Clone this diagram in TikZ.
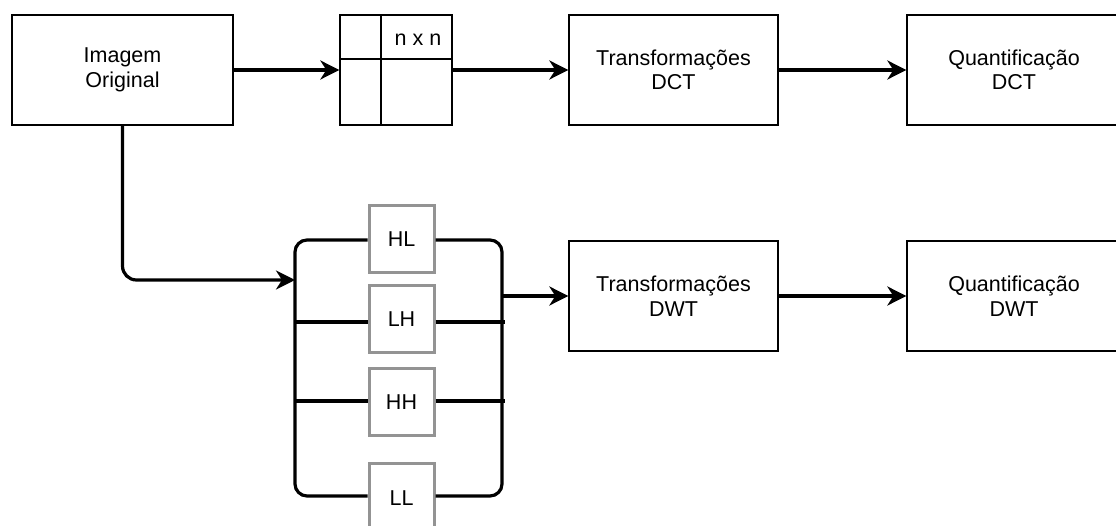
\documentclass[tikz,border=0pt]{standalone}
\usepackage{fontspec}
\setmainfont{Liberation Sans}
\usetikzlibrary{arrows.meta}
\begin{document}
\begin{tikzpicture}[x=1pt,y=-1pt,
  every node/.style={font=\fontsize{21.5}{24.5}\selectfont, align=center, inner sep=0pt},
  stage/.style={draw=black, line width=1.3pt, minimum width=209pt, minimum height=110pt},
  band/.style={draw=gray!85, line width=3pt, minimum width=65pt, minimum height=67pt},
  wire/.style={line width=3.2pt},
  flow/.style={wire, -{Stealth[length=19pt,width=19pt,inset=6pt]}}
]
\useasboundingbox (0,0) rectangle (1116,526);

% top row: DCT branch
\node[stage, minimum width=221pt] (img) at (122.5,70) {Imagem\\Original};
\node[stage, minimum width=112pt] (grid) at (396,70) {};
\draw[line width=1.3pt] (381,15) -- (381,125);
\draw[line width=1.3pt] (340,59) -- (452,59);
\node (nxn) at (418,40) {n x n};
\node[stage] (tdct) at (673.5,70) {Transformações\\DCT};
\node[stage, minimum width=214pt] (qdct) at (1014,70) {Quantificação\\DCT};

\draw[flow] (img.east) -- (grid.west);
\draw[flow] (grid.east) -- (tdct.west);
\draw[flow] (tdct.east) -- (qdct.west);

% bottom row: DWT branch with sub-bands
\node[band] (hl) at (401.5,239.5) {HL};
\node[band] (lh) at (401.5,319.5) {LH};
\node[band] (hh) at (401.5,402) {HH};
\node[band, minimum height=70pt] (ll) at (401.5,498) {LL};

\coordinate (split) at (295,280);
\coordinate (merge) at (502,296);

\draw[wire, rounded corners=12pt] (hl.west |- 0,240) -- (295,240) -- (295,496) -- (ll.west |- 0,496);
\draw[wire, rounded corners=12pt] (hl.east |- 0,240) -- (502,240) -- (502,496) -- (ll.east |- 0,496);
\draw[wire] (295,322) -- (lh.west |- 0,322);
\draw[wire] (lh.east |- 0,322) -- (505,322);
\draw[wire] (295,401) -- (hh.west |- 0,401);
\draw[wire] (hh.east |- 0,401) -- (505,401);

\draw[flow, rounded corners=14pt] (img.south) -- (img.south |- split) -- (split);

\node[stage] (tdwt) at (673.5,296) {Transformações\\DWT};
\node[stage, minimum width=214pt] (qdwt) at (1014,296) {Quantificação\\DWT};

\draw[flow] (merge) -- (tdwt.west);
\draw[flow] (tdwt.east) -- (qdwt.west);
\end{tikzpicture}
\end{document}
